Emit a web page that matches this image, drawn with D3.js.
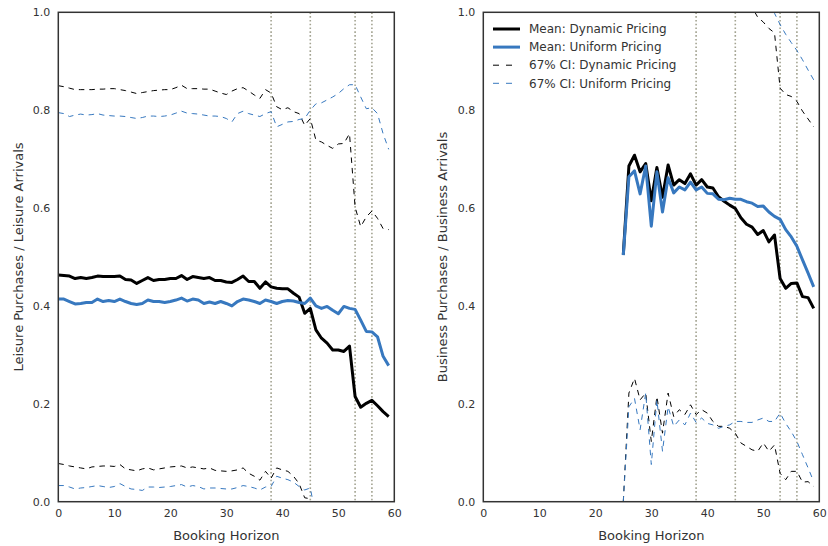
<!DOCTYPE html>
<html>
<head>
<meta charset="utf-8">
<script src="https://cdn.jsdelivr.net/npm/d3@7"></script>
<style>
  html, body { margin: 0; padding: 0; background: #fff; }
  svg { display: block; font-family: "DejaVu Sans", sans-serif; }
</style>
</head>
<body>
<svg id="chart" width="828" height="546"></svg>
<script>
// ---------------- DATA ----------------
const xTicks = [0, 10, 20, 30, 40, 50, 60];
const yTicks = [0.0, 0.2, 0.4, 0.6, 0.8, 1.0];
const vLines = [38, 45, 53, 56];

const seriesNames = ["Mean: Dynamic Pricing", "Mean: Uniform Pricing", "67% CI: Dynamic Pricing", "67% CI: Uniform Pricing"];

// Leisure panel, booking horizon 0..59
const leisureDynMean = [0.463,0.462,0.461,0.456,0.458,0.456,0.458,0.461,0.460,0.460,
  0.460,0.461,0.454,0.453,0.446,0.452,0.458,0.452,0.454,0.454,
  0.456,0.456,0.462,0.454,0.460,0.458,0.456,0.458,0.452,0.452,
  0.449,0.448,0.454,0.461,0.450,0.450,0.436,0.449,0.439,0.436,
  0.435,0.435,0.426,0.418,0.385,0.395,0.351,0.334,0.324,0.310,
  0.310,0.307,0.318,0.215,0.193,0.201,0.207,0.196,0.184,0.174];
const leisureUniMean = [0.414,0.414,0.409,0.404,0.405,0.407,0.407,0.414,0.409,0.411,
  0.409,0.414,0.409,0.405,0.403,0.405,0.412,0.409,0.409,0.407,
  0.409,0.412,0.416,0.410,0.414,0.412,0.405,0.408,0.405,0.409,
  0.405,0.400,0.409,0.414,0.412,0.409,0.405,0.412,0.409,0.405,
  0.409,0.411,0.410,0.407,0.405,0.416,0.400,0.395,0.399,0.391,
  0.384,0.399,0.395,0.393,0.371,0.348,0.347,0.337,0.297,0.278];
const leisureDynUpper = [0.850,0.848,0.845,0.842,0.842,0.842,0.842,0.843,0.843,0.844,
  0.844,0.842,0.840,0.837,0.834,0.836,0.838,0.840,0.841,0.842,
  0.842,0.846,0.851,0.844,0.844,0.844,0.843,0.843,0.839,0.835,
  0.832,0.839,0.844,0.846,0.839,0.831,0.824,0.842,0.835,0.807,
  0.801,0.805,0.797,0.793,0.769,0.783,0.739,0.735,0.728,0.722,
  0.731,0.732,0.752,0.602,0.562,0.582,0.594,0.579,0.558,0.556];
const leisureUniUpper = [0.795,0.793,0.787,0.790,0.792,0.790,0.791,0.793,0.790,0.789,
  0.788,0.788,0.787,0.785,0.783,0.785,0.788,0.788,0.787,0.788,
  0.790,0.794,0.798,0.794,0.793,0.792,0.790,0.788,0.788,0.787,
  0.783,0.776,0.793,0.798,0.793,0.790,0.787,0.793,0.797,0.766,
  0.771,0.776,0.777,0.781,0.783,0.800,0.813,0.815,0.821,0.827,
  0.834,0.844,0.852,0.852,0.827,0.803,0.805,0.793,0.752,0.720];
const leisureDynLower = [0.078,0.076,0.073,0.071,0.069,0.067,0.071,0.072,0.073,0.073,
  0.072,0.076,0.067,0.065,0.063,0.067,0.069,0.065,0.067,0.069,
  0.071,0.072,0.073,0.069,0.071,0.069,0.067,0.069,0.064,0.063,
  0.062,0.063,0.065,0.069,0.058,0.052,0.044,0.062,0.048,0.069,
  0.065,0.062,0.052,0.037,0.008,0.006,-0.040,null,null,null,
  null,null,null,null,null,null,null,null,null,null];
const leisureUniLower = [0.033,0.033,0.030,0.026,0.028,0.029,0.031,0.033,0.031,0.029,
  0.031,0.037,0.031,0.026,0.025,0.023,0.030,0.030,0.029,0.030,
  0.031,0.033,0.035,0.030,0.033,0.031,0.026,0.028,0.028,0.027,
  0.026,0.026,0.029,0.033,0.031,0.028,0.024,0.030,0.031,0.052,
  0.048,0.045,0.040,0.031,0.024,0.028,-0.030,null,null,null,
  null,null,null,null,null,null,null,null,null,null];

// Business panel, booking horizon 25..59
const businessStart = 25;
const businessDynMean = [0.505,0.686,0.708,0.674,0.691,0.615,0.683,0.622,0.688,0.647,
  0.658,0.650,0.670,0.647,0.658,0.643,0.641,0.623,0.614,0.606,
  0.599,0.580,0.567,0.561,0.546,0.554,0.531,0.545,0.456,0.436,
  0.446,0.447,0.419,0.417,0.395];
const businessUniMean = [0.504,0.664,0.676,0.629,0.686,0.563,0.674,0.592,0.662,0.631,
  0.643,0.637,0.653,0.637,0.643,0.630,0.629,0.618,0.617,0.620,
  0.618,0.618,0.613,0.610,0.603,0.604,0.592,0.583,0.577,0.556,
  0.541,0.522,0.494,0.467,0.439];
const businessDynUpper = [null,null,null,null,null,null,null,null,null,null,
  null,null,null,null,null,null,null,null,null,null,
  null,null,1.040,1.010,0.990,0.980,0.967,0.958,0.845,0.832,
  0.828,0.818,0.798,0.782,0.766];
const businessUniUpper = [null,null,null,null,null,null,null,null,null,null,
  null,null,null,null,null,null,null,null,null,null,
  null,null,null,null,null,null,1.020,0.998,0.975,0.955,
  0.938,0.922,0.903,0.882,0.862];
const businessDynLower = [0.000,0.222,0.252,0.208,0.222,0.123,0.215,0.140,0.222,0.174,
  0.188,0.178,0.198,0.178,0.188,0.181,0.164,0.154,0.154,0.150,
  0.140,0.120,0.113,0.106,0.103,0.120,0.103,0.116,0.058,0.045,
  0.062,0.062,0.040,0.041,0.031];
const businessUniLower = [0.000,0.194,0.211,0.147,0.222,0.076,0.208,0.103,0.194,0.154,
  0.167,0.157,0.181,0.162,0.171,0.160,0.157,0.150,0.154,0.157,
  0.164,0.164,0.162,0.162,0.167,0.171,0.164,0.164,0.181,0.160,
  0.143,0.123,0.096,0.069,0.041];

// ---------------- STYLE ----------------
const BLACK = "#000000";
const BLUE = "#3778bf";
const FRAME = "#333333";
const TEXT = "#333333";
const VLINE = "#a3a391";

const svg = d3.select("#chart");

const panels = [
  { left: 58.3, right: 394.3, ylabel: "Leisure Purchases / Leisure Arrivals", labelX: 18,
    start: 0,
    dynMean: leisureDynMean, uniMean: leisureUniMean,
    dynUp: leisureDynUpper, uniUp: leisureUniUpper,
    dynLo: leisureDynLower, uniLo: leisureUniLower, legend: false },
  { left: 483.3, right: 819.3, ylabel: "Business Purchases / Business Arrivals", labelX: 442,
    start: businessStart,
    dynMean: businessDynMean, uniMean: businessUniMean,
    dynUp: businessDynUpper, uniUp: businessUniUpper,
    dynLo: businessDynLower, uniLo: businessUniLower, legend: true }
];
const plotTop = 12.3, plotBottom = 501.7;

panels.forEach((p, pi) => {
  const x = d3.scaleLinear().domain([0, 60]).range([p.left, p.right]);
  const y = d3.scaleLinear().domain([0, 1]).range([plotBottom, plotTop]);
  const g = svg.append("g");

  const clipId = "clip" + pi;
  svg.append("clipPath").attr("id", clipId)
    .append("rect").attr("x", p.left).attr("y", plotTop)
    .attr("width", p.right - p.left).attr("height", plotBottom - plotTop);

  const plot = g.append("g").attr("clip-path", `url(#${clipId})`);

  plot.selectAll("line.v").data(vLines).enter().append("line")
    .attr("class", "v")
    .attr("x1", d => x(d)).attr("x2", d => x(d))
    .attr("y1", plotTop).attr("y2", plotBottom)
    .attr("stroke", VLINE).attr("stroke-width", 1.6)
    .attr("stroke-dasharray", "1.6,2.2");

  const line = d3.line()
    .defined(d => d != null)
    .x((d, i) => x(p.start + i))
    .y(d => y(d));

  const addLine = (data, color, width, dash) => {
    const path = plot.append("path")
      .attr("d", line(data))
      .attr("fill", "none")
      .attr("stroke", color)
      .attr("stroke-width", width)
      .attr("stroke-linejoin", "round");
    if (dash) path.attr("stroke-dasharray", dash);
  };

  addLine(p.dynUp, BLACK, 1, "5.5,5");
  addLine(p.dynLo, BLACK, 1, "5.5,5");
  addLine(p.uniUp, BLUE, 1, "5.5,5");
  addLine(p.uniLo, BLUE, 1, "5.5,5");
  addLine(p.dynMean, BLACK, 3, null);
  addLine(p.uniMean, BLUE, 3, null);

  const xAxis = g.append("g").attr("transform", `translate(0,${plotBottom})`)
    .call(d3.axisBottom(x).tickValues(xTicks).tickFormat(d3.format("d")).tickSize(0).tickPadding(8));
  const yAxis = g.append("g").attr("transform", `translate(${p.left},0)`)
    .call(d3.axisLeft(y).tickValues(yTicks).tickFormat(d3.format(".1f")).tickSize(0).tickPadding(8));
  [xAxis, yAxis].forEach(a => {
    a.select(".domain").remove();
    a.selectAll("text").attr("fill", TEXT).style("font-size", "11px")
      .style("font-family", "DejaVu Sans, sans-serif");
  });

  g.append("rect").attr("x", p.left).attr("y", plotTop)
    .attr("width", p.right - p.left).attr("height", plotBottom - plotTop)
    .attr("fill", "none").attr("stroke", FRAME).attr("stroke-width", 1.5);

  g.append("text").attr("x", (p.left + p.right) / 2).attr("y", 539.5)
    .attr("text-anchor", "middle").attr("fill", TEXT)
    .style("font-size", "13px").text("Booking Horizon");
  g.append("text")
    .attr("transform", `translate(${p.labelX + 4.5},${(plotTop + plotBottom) / 2}) rotate(-90)`)
    .attr("text-anchor", "middle").attr("fill", TEXT)
    .style("font-size", "13px").text(p.ylabel);

  if (p.legend) {
    const items = [
      { color: BLACK, width: 3, dash: null },
      { color: BLUE, width: 3, dash: null },
      { color: BLACK, width: 1, dash: "6,7" },
      { color: BLUE, width: 1, dash: "6,7" }
    ];
    const lg = g.append("g");
    items.forEach((it, i) => {
      const yy = 29 + i * 18.1;
      const l = lg.append("line").attr("x1", 493).attr("x2", it.dash ? 512.5 : 520)
        .attr("y1", yy).attr("y2", yy)
        .attr("stroke", it.color).attr("stroke-width", it.width);
      if (it.dash) l.attr("stroke-dasharray", it.dash);
      lg.append("text").attr("x", 529).attr("y", yy).attr("dy", "0.35em")
        .attr("fill", TEXT).style("font-size", "12px").text(seriesNames[i]);
    });
  }
});
</script>
</body>
</html>
